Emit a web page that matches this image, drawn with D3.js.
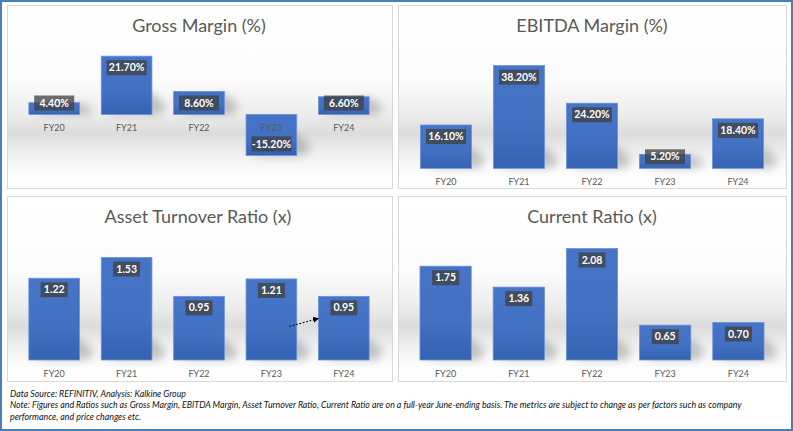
<!DOCTYPE html>
<html><head><meta charset="utf-8">
<script src="https://cdn.jsdelivr.net/npm/d3@7"></script>
<style>
html,body{margin:0;padding:0;background:#fff;}
svg{display:block;}
</style></head>
<body>
<svg id="chart" width="793" height="431"></svg>
<script>
// ---- data ----
const categories = ["FY20","FY21","FY22","FY23","FY24"];
const grossMargin = [4.4, 21.7, 8.6, -15.2, 6.6];
const ebitdaMargin = [16.1, 38.2, 24.2, 5.2, 18.4];
const assetTurnover = [1.22, 1.53, 0.95, 1.21, 0.95];
const currentRatio = [1.75, 1.36, 2.08, 0.65, 0.70];
const titles = ["Gross Margin (%)", "EBITDA Margin (%)", "Asset Turnover Ratio (x)", "Current Ratio (x)"];
const domains = [[-20, 25], [0, 45], [0, 1.8], [0, 2.25]];
const formats = [v => v.toFixed(2) + "%", v => v.toFixed(2) + "%", v => v.toFixed(2), v => v.toFixed(2)];
// annotation arrow in Asset Turnover panel (data coords: [category, fraction of band, value])
const arrowFrom = ["FY23", 0.85, 0.5];
const arrowTo = ["FY24", 0.0, 0.62];
const footer1 = "Data Source: REFINITIV, Analysis: Kalkine Group";
const footer2 = "Note: Figures and Ratios such as Gross Margin, EBITDA Margin, Asset Turnover Ratio, Current Ratio are on a full-year June-ending basis. The metrics are subject to change as per factors such as company";
const footer3 = "performance, and price changes etc.";

const series = [grossMargin, ebitdaMargin, assetTurnover, currentRatio];

// ---- layout ----
const panels = [
  {x: 7,   y: 5,   w: 385, h: 183, plotTop: 47.3, plotBot: 168.3, xr: [18, 380], titleX: 199},
  {x: 398, y: 5,   w: 388, h: 183, plotTop: 47.3, plotBot: 168.3, xr: [409.5, 774.5], titleX: 592},
  {x: 7,   y: 196, w: 385, h: 185, plotTop: 239.4, plotBot: 360, xr: [18, 380], titleX: 198},
  {x: 398, y: 196, w: 388, h: 185, plotTop: 239.4, plotBot: 360, xr: [409, 775], titleX: 592}
];

const svg = d3.select("#chart");
const defs = svg.append("defs");

const bg = defs.append("linearGradient").attr("id","bgGrad").attr("x1",0).attr("y1",0).attr("x2",0).attr("y2",1);
[[0,"#ffffff"],[0.42,"#fbfbfb"],[0.6,"#ececec"],[0.7,"#dcdcdc"],[0.8,"#eeeeee"],[0.92,"#fdfdfd"],[1,"#ffffff"]]
  .forEach(([o,c]) => bg.append("stop").attr("offset",o).attr("stop-color",c));

const barGrad = defs.append("linearGradient").attr("id","barGrad").attr("x1",0).attr("y1",0).attr("x2",0).attr("y2",1);
[[0,"#4675c8"],[0.6,"#4270c2"],[1,"#3562b2"]]
  .forEach(([o,c]) => barGrad.append("stop").attr("offset",o).attr("stop-color",c));

const blur = defs.append("filter").attr("id","shadowBlur").attr("x","-50%").attr("y","-50%").attr("width","200%").attr("height","200%");
blur.append("feGaussianBlur").attr("stdDeviation", 4);

defs.append("marker").attr("id","arrowHead").attr("viewBox","0 0 10 10").attr("refX",9).attr("refY",5)
  .attr("markerWidth",6).attr("markerHeight",6).attr("orient","auto-start-reverse")
  .append("path").attr("d","M0,0 L10,5 L0,10 z").attr("fill","#000");

// outer border
svg.append("rect").attr("x",1).attr("y",1).attr("width",791).attr("height",429)
  .attr("fill","#fff").attr("stroke","#4a7ebb").attr("stroke-width",2);

panels.forEach((p, i) => {
  const g = svg.append("g");
  g.append("rect").attr("x",p.x+0.5).attr("y",p.y+0.5).attr("width",p.w).attr("height",p.h)
    .attr("fill","url(#bgGrad)").attr("stroke","#d9d9d9").attr("stroke-width",1);

  g.append("text").attr("x",p.titleX).attr("y",p.y + 27)
    .attr("text-anchor","middle").attr("font-family","Lato, 'Open Sans', sans-serif")
    .attr("font-size",18).attr("fill","#595959").text(titles[i]);

  const x = d3.scaleBand().domain(categories).range(p.xr).paddingInner(0.3).paddingOuter(0.15);
  const y = d3.scaleLinear().domain(domains[i]).range([p.plotBot, p.plotTop]);
  const data = categories.map((c, k) => ({c, v: series[i][k]}));
  const y0 = y(0);

  // shadows
  g.selectAll("path.shadow").data(data).join("path").attr("class","shadow")
    .attr("d", d => {
      const bx = x(d.c), bw = x.bandwidth();
      const top = Math.min(y(d.v), y0), bot = Math.max(y(d.v), y0);
      const sh = Math.min(22, bot - top);
      return `M${bx+4},${bot} L${bx+bw},${bot-sh} L${bx+bw+14},${bot-sh*0.4} L${bx+bw+8},${bot} Z`;
    })
    .attr("fill","#000").attr("opacity",0.2).attr("filter","url(#shadowBlur)");

  g.selectAll("rect.bar").data(data).join("rect").attr("class","bar")
    .attr("x", d => x(d.c)).attr("width", x.bandwidth())
    .attr("y", d => Math.min(y(d.v), y0)).attr("height", d => Math.abs(y(d.v) - y0))
    .attr("fill","url(#barGrad)").attr("stroke","#6a93d8").attr("stroke-width",0.8);

  // category labels
  const labY = (i === 0 ? y0 : p.plotBot) + 16.5;
  g.selectAll("text.cat").data(categories).join("text").attr("class","cat")
    .attr("x", c => x(c) + x.bandwidth()/2).attr("y", labY)
    .attr("text-anchor","middle").attr("font-family","Lato, 'Open Sans', sans-serif")
    .attr("font-size",9).attr("fill","#595959").text(c => c);

  // value labels
  const lh = 15, pct = i < 2;
  const lw = pct ? 40 : 27;
  const lg = g.selectAll("g.lab").data(data).join("g").attr("class","lab")
    .attr("transform", d => {
      const cx = x(d.c) + x.bandwidth()/2;
      let cy;
      if (d.v >= 0) cy = Math.min(y(d.v) + 4 + lh/2, y0 - 4 - lh/2);
      else cy = Math.max(y(d.v) - 4 - lh/2, y0 + 4 + lh/2);
      return `translate(${cx},${cy})`;
    });
  lg.append("rect").attr("x",-lw/2).attr("y",-lh/2).attr("width",lw).attr("height",lh)
    .attr("fill","#404040").attr("opacity",0.76);
  lg.append("text").attr("y",3.6).attr("text-anchor","middle")
    .attr("font-family","Lato, 'Open Sans', sans-serif").attr("font-weight","bold")
    .attr("font-size",10.5).attr("fill","#fff").text(d => formats[i](d.v));

  if (i === 2) {
    const ax1 = x(arrowFrom[0]) + x.bandwidth()*arrowFrom[1], ay1 = y(arrowFrom[2]);
    const ax2 = x(arrowTo[0]) + x.bandwidth()*arrowTo[1], ay2 = y(arrowTo[2]);
    g.append("line").attr("x1",ax1).attr("y1",ay1).attr("x2",ax2).attr("y2",ay2)
      .attr("stroke","#000").attr("stroke-width",1).attr("stroke-dasharray","2,1.5")
      .attr("marker-end","url(#arrowHead)");
  }
});

// footer
const ft = svg.append("g").attr("font-family","Lato, 'Open Sans', sans-serif")
  .attr("font-style","italic").attr("font-size",8.8).attr("fill","#111");
ft.append("text").attr("x",10).attr("y",396.5).text(footer1);
ft.append("text").attr("x",10).attr("y",408).text(footer2);
ft.append("text").attr("x",10).attr("y",419.5).text(footer3);
</script>
</body></html>
